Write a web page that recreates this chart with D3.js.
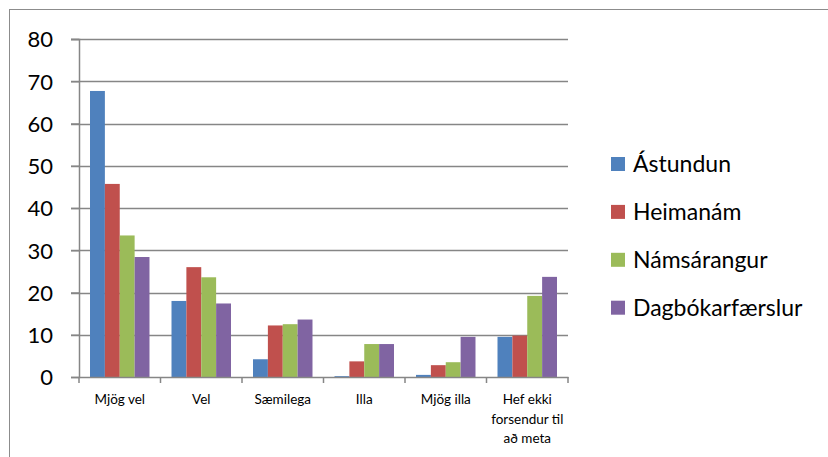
<!DOCTYPE html>
<html>
<head>
<meta charset="utf-8">
<script src="https://cdn.jsdelivr.net/npm/d3@7"></script>
<style>
  html, body { margin: 0; padding: 0; background: #fff; }
  svg { display: block; }
  text { font-family: Lato, "Open Sans", sans-serif; fill: #000; }
</style>
</head>
<body>
<svg id="chart" width="828" height="457"></svg>
<script>
const categories = ["Mjög vel", "Vel", "Sæmilega", "Illa", "Mjög illa", "Hef ekki forsendur til að meta"];
const categoryLines = [["Mjög vel"], ["Vel"], ["Sæmilega"], ["Illa"], ["Mjög illa"], ["Hef ekki", "forsendur til", "að meta"]];
const seriesNames = ["Ástundun", "Heimanám", "Námsárangur", "Dagbókarfærslur"];
const seriesColors = ["#4F81BD", "#C0504D", "#9BBB59", "#8064A2"];
const astundun = [67.7, 18.0, 4.2, 0.2, 0.5, 9.5];
const heimanam = [45.7, 26.0, 12.2, 3.7, 2.8, 9.8];
const namsarangur = [33.5, 23.6, 12.5, 7.8, 3.5, 19.2];
const dagbokarfaerslur = [28.4, 17.4, 13.6, 7.8, 9.5, 23.7];
const yTicks = [0, 10, 20, 30, 40, 50, 60, 70, 80];

const seriesValues = [astundun, heimanam, namsarangur, dagbokarfaerslur];

const svg = d3.select("#chart");
const pL = 79, pR = 568, pT = 39, pB = 377;

// outer border
svg.append("rect").attr("x", 9.5).attr("y", 9.5).attr("width", 830).attr("height", 460)
  .attr("fill", "none").attr("stroke", "#8c8c8c").attr("stroke-width", 1);

const x0 = d3.scaleBand().domain(categories).range([pL, pR]).paddingInner(0).paddingOuter(0);
const x1 = d3.scaleBand().domain(seriesNames).range([0, x0.bandwidth()]).paddingInner(0).paddingOuter(0.74);
const y = d3.scaleLinear().domain([0, 80]).range([pB, pT]);

// gridlines
svg.append("g").selectAll("line").data(yTicks.filter(d => d > 0)).join("line")
  .attr("x1", pL - 8).attr("x2", pR)
  .attr("y1", d => Math.round(y(d)) + 0.5).attr("y2", d => Math.round(y(d)) + 0.5)
  .attr("stroke", "#868686").attr("stroke-width", 1.5);

// bars
const groups = svg.append("g").selectAll("g").data(categories).join("g")
  .attr("transform", c => `translate(${x0(c)},0)`);
groups.selectAll("rect").data((c, i) => seriesNames.map((s, j) => ({ s, v: seriesValues[j][i], j })))
  .join("rect")
  .attr("x", d => x1(d.s)).attr("width", x1.bandwidth())
  .attr("y", d => y(d.v)).attr("height", d => y(0) - y(d.v))
  .attr("fill", d => seriesColors[d.j]);

// y axis
const yAxis = svg.append("g").attr("transform", `translate(${pL},0)`)
  .call(d3.axisLeft(y).tickValues(yTicks).tickSize(8).tickPadding(18).tickFormat(d3.format("d")));
yAxis.select(".domain").attr("stroke", "#868686").attr("stroke-width", 1.5);
yAxis.selectAll(".tick line").attr("stroke", "#868686").attr("stroke-width", 1.5);
yAxis.selectAll(".tick text").attr("font-size", 22).attr("font-family", "Lato, sans-serif").attr("fill", "#000").attr("dy", "0.36em");

// x axis
const xAxis = svg.append("g").attr("transform", `translate(0,${pB})`)
  .call(d3.axisBottom(x0).tickSize(0).tickFormat(""));
xAxis.select(".domain").attr("stroke", "#868686").attr("stroke-width", 1.5);
const boundaries = d3.range(categories.length + 1).map(i => pL + i * x0.step());
xAxis.selectAll(".bt").data(boundaries).join("line").attr("class", "bt")
  .attr("x1", d => d).attr("x2", d => d).attr("y1", 0).attr("y2", 6)
  .attr("stroke", "#868686").attr("stroke-width", 1.5);

// x labels
const xl = svg.append("g").selectAll("text").data(categories).join("text")
  .attr("text-anchor", "middle").attr("font-size", 13.5)
  .attr("x", c => x0(c) + x0.bandwidth() / 2).attr("y", 404);
xl.selectAll("tspan").data((c, i) => categoryLines[i]).join("tspan")
  .attr("x", function() { return this.parentNode.getAttribute("x"); })
  .attr("dy", (d, i) => i === 0 ? 0 : 19.5)
  .text(d => d);

// legend
const legend = svg.append("g").selectAll("g").data(seriesNames).join("g")
  .attr("transform", (d, i) => `translate(611,${164 + i * 47.9})`);
legend.append("rect").attr("x", 0).attr("y", -7).attr("width", 14).attr("height", 14)
  .attr("fill", (d, i) => seriesColors[i]);
legend.append("text").attr("x", 22).attr("y", 0).attr("dy", "0.36em")
  .attr("font-size", 23).text(d => d);
</script>
</body>
</html>
